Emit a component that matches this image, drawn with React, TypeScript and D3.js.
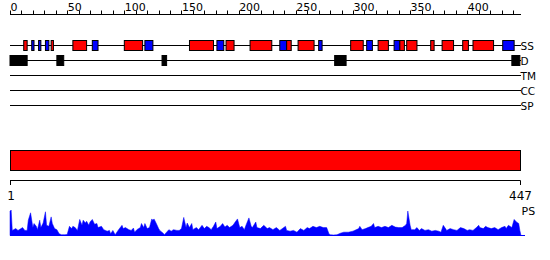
import React from "react";
import * as d3 from "d3";

const LENGTH = 447;
const topTicks = d3.range(0, 441, 10);
const topLabels = [0, 50, 100, 150, 200, 250, 300, 350, 400];
const trackNames = ["SS", "D", "TM", "CC", "SP"];

// secondary structure: type, start, end
const ssType = ["H","E","E","E","H","H","E","H","E","H","E","H","H","E","H","H","E","H","E","H","E","H","H","H","H","H","H","E"];
const ssStart = [12,19,25,31,36,55,72,100,118,157,181,189,210,236,242,252,270,298,312,322,336,341,347,368,378,396,405,431];
const ssEnd =   [15,21,27,34,38,67,77,116,125,178,187,196,229,242,246,266,273,309,317,331,341,345,356,371,388,401,423,441];

// disorder segments
const dStart = [0, 41, 133, 284, 439];
const dEnd = [15, 47, 137, 294, 446];

// profile score
const psPos = [0,1,2,5,7,11,13,15,16,18,20,21,23,24,26,27,29,31,32,34,36,37,39,41,43,45,48,50,52,54,55,57,59,61,63,64,66,67,69,70,72,74,76,77,80,82,85,87,88,90,92,95,98,99,101,104,106,108,109,111,114,115,117,118,120,122,124,125,126,128,130,131,134,135,137,139,141,143,146,148,150,152,154,155,157,159,160,163,165,168,170,172,174,176,178,180,181,184,186,188,190,192,195,197,199,201,203,205,207,209,211,212,215,216,219,222,225,227,230,233,236,241,242,245,248,251,254,257,260,262,265,268,271,274,277,279,280,283,286,289,292,296,300,305,306,308,311,313,316,318,319,322,325,328,331,334,337,340,343,346,347,348,350,351,354,356,358,360,363,366,369,372,375,377,379,381,382,385,388,391,394,397,400,402,405,408,410,411,414,416,418,421,424,427,430,433,434,436,439,441,443,445,446,447];
const psVal = [0.95,1.0,0.2,0.27,0.2,0.31,0.2,0.2,0.6,0.89,0.31,0.47,0.36,0.23,0.6,0.31,0.49,0.93,0.4,0.36,0.73,0.47,0.27,0.23,0.07,0.03,0.03,0.04,0.36,0.27,0.36,0.31,0.2,0.63,0.4,0.6,0.49,0.56,0.4,0.53,0.63,0.44,0.47,0.31,0.36,0.23,0.17,0.2,0.07,0.2,0.03,0.23,0.4,0.27,0.31,0.23,0.2,0.29,0.13,0.23,0.31,0.47,0.31,0.47,0.27,0.31,0.65,0.6,0.65,0.47,0.27,0.2,0.09,0.03,0.13,0.23,0.17,0.23,0.2,0.2,0.27,0.71,0.31,0.49,0.31,0.47,0.23,0.31,0.23,0.4,0.27,0.36,0.31,0.23,0.36,0.53,0.27,0.36,0.47,0.33,0.4,0.31,0.4,0.53,0.65,0.31,0.36,0.23,0.47,0.69,0.36,0.31,0.53,0.31,0.27,0.4,0.27,0.31,0.23,0.31,0.2,0.36,0.2,0.17,0.2,0.13,0.27,0.2,0.31,0.27,0.36,0.31,0.36,0.31,0.31,0.07,0.03,0.02,0.03,0.09,0.13,0.13,0.17,0.27,0.36,0.23,0.27,0.31,0.36,0.47,0.31,0.36,0.31,0.36,0.31,0.4,0.33,0.31,0.31,0.4,0.47,0.96,0.4,0.23,0.23,0.31,0.2,0.27,0.2,0.23,0.17,0.2,0.17,0.13,0.4,0.27,0.2,0.27,0.23,0.2,0.31,0.27,0.2,0.23,0.2,0.31,0.4,0.31,0.27,0.36,0.31,0.27,0.31,0.23,0.31,0.36,0.27,0.4,0.31,0.63,0.53,0.47,0.2,0];

const FONT = "DejaVu Sans, sans-serif";

export default function App() {
  const x = d3.scaleLinear().domain([0, LENGTH]).range([10, 521]);
  const trackY = d3.scalePoint<string>().domain(trackNames).range([45.5, 105.5]);
  const psY = d3.scaleLinear().domain([0, 1]).range([235.5, 210]);
  const psData = psPos.map((p, i) => [p, psVal[i]] as [number, number]);
  const area = d3
    .area<[number, number]>()
    .x((d) => x(d[0]))
    .y0(psY(0))
    .y1((d) => psY(d[1]));
  const ssY = trackY("SS")!;
  const dY = trackY("D")!;
  return (
    <svg width={550} height={260} style={{ display: "block", position: "absolute", left: 0, top: 0 }} fontFamily={FONT}>
      <rect width={550} height={260} fill="#fff" />
      {/* top axis */}
      <line x1={x(0)} x2={x(LENGTH)} y1={14.5} y2={14.5} stroke="#000" />
      {topTicks.map((t) => (
        <line key={t} x1={Math.round(x(t)) + 0.5} x2={Math.round(x(t)) + 0.5} y1={10.5} y2={14.5} stroke="#000" />
      ))}
      {topLabels.map((t) => (
        <text key={t} x={x(t) + 0.5} y={11} fontSize={11} fill="#000">
          {t}
        </text>
      ))}
      {/* track lines */}
      {trackNames.map((n) => (
        <g key={n}>
          <line x1={x(0)} x2={x(LENGTH)} y1={trackY(n)} y2={trackY(n)} stroke="#000" />
          <text x={x(LENGTH) - 0.5} y={trackY(n)! + 4} fontSize={10.5} fill="#000">
            {n}
          </text>
        </g>
      ))}
      {/* SS */}
      {ssType.map((t, i) => (
        <rect
          key={i}
          x={x(ssStart[i])}
          y={ssY - 5}
          width={x(ssEnd[i]) - x(ssStart[i])}
          height={10}
          fill={t === "H" ? "#ff0000" : "#0000ff"}
          stroke="#000"
        />
      ))}
      {/* disorder */}
      {dStart.map((s, i) => (
        <rect key={i} x={x(s)} y={dY - 5} width={x(dEnd[i]) - x(s)} height={10} fill="#000" stroke="#000" />
      ))}
      {/* big bar */}
      <rect x={10.5} y={150.5} width={x(LENGTH) - 11} height={20} fill="#ff0000" stroke="#000" />
      {/* bottom axis */}
      <line x1={x(0)} x2={x(LENGTH) - 0.5} y1={180.5} y2={180.5} stroke="#000" />
      <line x1={10.5} x2={10.5} y1={180.5} y2={185} stroke="#000" />
      <line x1={520.5} x2={520.5} y1={180.5} y2={185} stroke="#000" />
      <text x={11} y={200} fontSize={12} textAnchor="middle" fill="#000">1</text>
      <text x={520.5} y={200} fontSize={12} textAnchor="middle" fill="#000">{LENGTH}</text>
      <text x={521.5} y={215} fontSize={11} fill="#000">PS</text>
      {/* profile */}
      <path d={area(psData) ?? ""} fill="#0000ff" stroke="#0000ff" strokeWidth={0.5} />
      <line x1={x(0)} x2={525} y1={235.5} y2={235.5} stroke="#0000ff" />
    </svg>
  );
}
